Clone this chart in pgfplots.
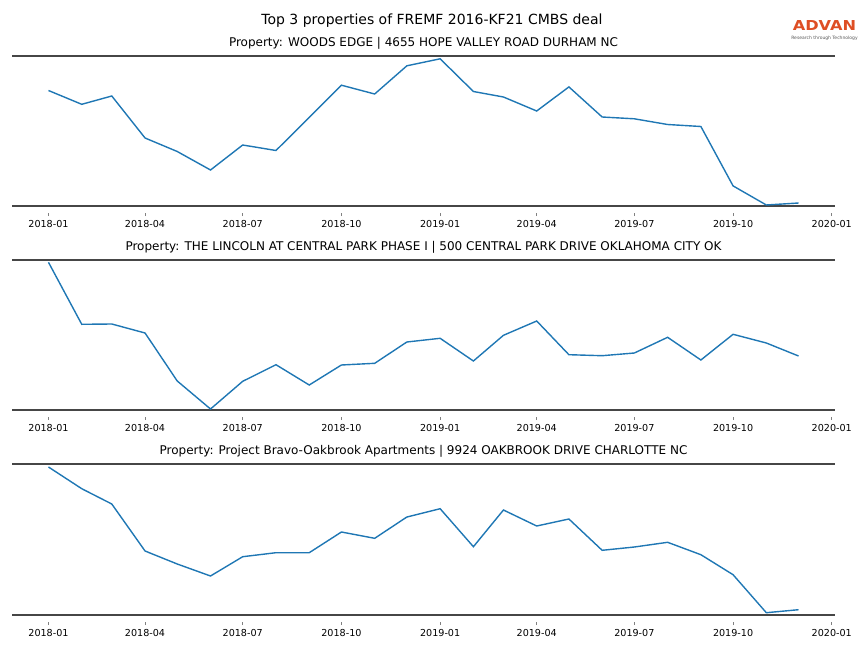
\documentclass[border=0pt]{standalone}
\usepackage{fontspec}
\setmainfont{DejaVu Sans}
\usepackage{pgfplots}
\pgfplotsset{compat=1.18}
\definecolor{mplblue}{HTML}{1F77B4}
\definecolor{spine}{RGB}{70,70,70}
\definecolor{advan}{RGB}{222,78,36}

\pgfplotsset{panel/.style={
  scale only axis, width=823bp, height=150bp,
  xmin=-34, xmax=733, ymin=0, ymax=150,
  separate axis lines,
  x axis line style={draw=spine, line width=1.6bp},
  y axis line style={draw=none},
  ytick=\empty,
  xtick={0,90,181,273,365,455,546,638,730},
  xticklabels={2018-01,2018-04,2018-07,2018-10,2019-01,2019-04,2019-07,2019-10,2020-01},
  xtick pos=bottom, tick align=outside, major tick length=3.5bp,
  xtick style={draw=gray, line width=0.6bp, yshift=-6.5bp},
  xticklabel style={font=\fontsize{9.6bp}{11bp}\selectfont, anchor=base, inner sep=0pt},
  xticklabel shift=17.5bp,
  /pgf/number format/assume math mode=true,
  title style={at={(0.5,1)}, anchor=base, yshift=4.02bp, inner sep=0pt, font=\fontsize{12bp}{14bp}\selectfont},
  clip=false,
  anchor=north west,
}}

\pgfplotstableread{
day  v
0    115.5
31   101.7
59   110
90   68
120  54.5
151  36
181  61
212  55.5
243  88.5
273  120.8
304  112
334  140.2
365  147.2
396  114.5
424  109
455  95
485  119.1
516  89
546  87.2
577  81.5
608  79.5
638  20.1
669  1
699  3
}\woods

\pgfplotstableread{
day  v
0    147.7
31   85.7
59   86
90   77
120  29
151  1
181  28.7
212  45.3
243  25
273  45
304  46.7
334  68
365  71.7
396  49
424  74.7
455  89
485  55.3
516  54.3
546  57
577  72.7
608  50
638  75.7
669  67
699  54
}\lincoln

\pgfplotstableread{
day  v
0    148
31   126.3
59   111
90   64
120  51
151  39
181  58.3
212  62.3
243  62.3
273  83
304  76.7
334  98
365  106.3
396  68.3
424  105
455  89
485  96
516  64.7
546  68
577  72.7
608  60.3
638  40.3
669  2.3
699  5.3
}\bravo

\begin{document}
\begin{tikzpicture}
\path[use as bounding box] (0,0) rectangle (864bp,-648bp);

\node[anchor=base, inner sep=0pt, font=\fontsize{14bp}{16bp}\selectfont] at (432bp,-24.5bp) {Top 3 properties of FREMF 2016-KF21 CMBS deal};
\node[anchor=base, inner sep=0pt, text=advan, font=\fontsize{13.7bp}{16bp}\selectfont\bfseries] at (824.5bp,-30.7bp) {\scalebox{1.18}[1]{ADVAN}};
\node[anchor=base, inner sep=0pt, text=black!65, font=\fontsize{4.5bp}{5bp}\selectfont] at (824.5bp,-39.5bp) {Research through Technology};

\begin{axis}[panel, at={(12bp,-56bp)},
  title={Property: WOODS EDGE | 4655 HOPE VALLEY ROAD DURHAM NC}]
\addplot[mplblue, line width=1.4bp] table[x=day, y=v] {\woods};
\end{axis}

\begin{axis}[panel, at={(12bp,-260bp)},
  title={Property: THE LINCOLN AT CENTRAL PARK PHASE I | 500 CENTRAL PARK DRIVE OKLAHOMA CITY OK}]
\addplot[mplblue, line width=1.4bp] table[x=day, y=v] {\lincoln};
\end{axis}

\begin{axis}[panel, at={(12bp,-464bp)}, height=151bp, ymax=151,
  title={Property: Project Bravo-Oakbrook Apartments | 9924 OAKBROOK DRIVE CHARLOTTE NC}]
\addplot[mplblue, line width=1.4bp] table[x=day, y=v] {\bravo};
\end{axis}
\end{tikzpicture}
\end{document}
